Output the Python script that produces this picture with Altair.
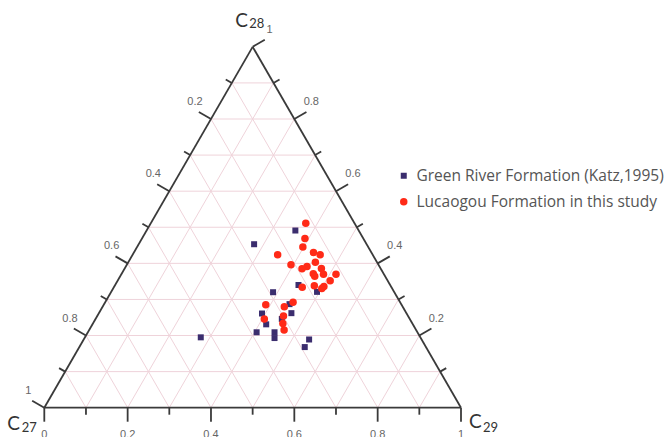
import altair as alt
import numpy as np
import pandas as pd

SERIES = ["Green River Formation (Katz,1995)", "Lucaogou Formation in this study"]
COLORS = ["#3b2d6e", "#ff2a17"]

# Green River Formation (Katz, 1995): fractions C27, C28, C29
green_c27 = [0.152, 0.270, 0.220, 0.185, 0.291, 0.268, 0.276, 0.347, 0.307, 0.352, 0.386, 0.343, 0.351, 0.527, 0.270, 0.291]
green_c28 = [0.491, 0.453, 0.340, 0.321, 0.320, 0.287, 0.262, 0.261, 0.246, 0.231, 0.209, 0.209, 0.193, 0.195, 0.189, 0.168]
green_c29 = [0.357, 0.277, 0.440, 0.494, 0.389, 0.445, 0.462, 0.392, 0.447, 0.417, 0.405, 0.448, 0.456, 0.278, 0.541, 0.541]

# Lucaogou Formation (this study)
luca_c27 = [0.117, 0.140, 0.157, 0.228, 0.140, 0.126, 0.148, 0.210, 0.175, 0.189, 0.142, 0.170, 0.169, 0.145,
            0.115, 0.139, 0.183, 0.161, 0.169, 0.215, 0.257, 0.326, 0.284, 0.299, 0.349, 0.311, 0.317]
luca_c28 = [0.511, 0.469, 0.445, 0.424, 0.430, 0.424, 0.403, 0.396, 0.391, 0.385, 0.386, 0.371, 0.364, 0.370,
            0.370, 0.352, 0.338, 0.336, 0.330, 0.334, 0.292, 0.285, 0.280, 0.254, 0.246, 0.233, 0.215]
luca_c29 = [0.372, 0.391, 0.398, 0.348, 0.431, 0.450, 0.449, 0.394, 0.435, 0.426, 0.472, 0.460, 0.467, 0.485,
            0.515, 0.510, 0.479, 0.503, 0.501, 0.452, 0.451, 0.389, 0.436, 0.447, 0.405, 0.456, 0.468]

grid_values = [0.1, 0.2, 0.3, 0.4, 0.5, 0.6, 0.7, 0.8, 0.9]
bottom_ticks = [0.0, 0.1, 0.2, 0.3, 0.4, 0.5, 0.6, 0.7, 0.8, 0.9, 1.0]
side_ticks = [0.1, 0.2, 0.3, 0.4, 0.5, 0.6, 0.7, 0.8, 0.9, 1.0]
bottom_labels = [(0.0, "0"), (0.2, "0.2"), (0.4, "0.4"), (0.6, "0.6"), (0.8, "0.8"), (1.0, "1")]
side_labels = [(0.2, "0.2"), (0.4, "0.4"), (0.6, "0.6"), (0.8, "0.8"), (1.0, "1")]

H = np.sqrt(3) / 2
SIDE_PX = 416.7
MAJOR = 14 / SIDE_PX
MINOR = 7 / SIDE_PX


def tern(c28, c29):
    return c29 + c28 / 2, c28 * H


# points
pts = pd.concat([
    pd.DataFrame({"series": SERIES[0], "c27": green_c27, "c28": green_c28, "c29": green_c29}),
    pd.DataFrame({"series": SERIES[1], "c27": luca_c27, "c28": luca_c28, "c29": luca_c29}),
])

# grid segments (ternary endpoints)
rows = []
for k in grid_values:
    rows.append((k, 0.0, k, 1 - k))        # C28 = k
    rows.append((0.0, k, 1 - k, k))        # C29 = k
    rows.append((0.0, 1 - k, 1 - k, 0.0))  # C27 = k
grid = []
for a28, a29, b28, b29 in rows:
    x1, y1 = tern(a28, a29)
    x2, y2 = tern(b28, b29)
    grid.append({"x": x1, "y": y1, "x2": x2, "y2": y2})
grid = pd.DataFrame(grid)

# triangle edges
V = {"L": tern(0, 0), "R": tern(0, 1), "T": tern(1, 0)}
edges = pd.DataFrame([
    {"x": V[a][0], "y": V[a][1], "x2": V[b][0], "y2": V[b][1]} for a, b in [("L", "R"), ("R", "T"), ("T", "L")]
])

# ticks
ticks = []
for t in bottom_ticks:
    x, y = tern(0, t)
    ln = MAJOR if round(t * 10) % 2 == 0 else MINOR
    ticks.append({"x": x, "y": y, "x2": x, "y2": y - ln})
for t in side_ticks:
    ln = MAJOR if round(t * 10) % 2 == 0 else MINOR
    # left edge: C27 = t, C29 = 0
    x, y = tern(1 - t, 0)
    ticks.append({"x": x, "y": y, "x2": x - H * ln, "y2": y + 0.5 * ln})
    # right edge: C28 = t, C27 = 0
    x, y = tern(t, 1 - t)
    ticks.append({"x": x, "y": y, "x2": x + H * ln, "y2": y + 0.5 * ln})
ticks = pd.DataFrame(ticks)

bl = pd.DataFrame([{"x": tern(0, v)[0], "y": 0.0, "t": s} for v, s in bottom_labels])
ll = pd.DataFrame([{"x": tern(1 - v, 0)[0], "y": tern(1 - v, 0)[1], "t": s} for v, s in side_labels])
rl = pd.DataFrame([{"x": tern(v, 1 - v)[0], "y": tern(v, 1 - v)[1], "t": s} for v, s in side_labels])

XS = alt.Scale(domain=[-44.3 / SIDE_PX, (671 - 44.3) / SIDE_PX], nice=False, zero=False)
YS = alt.Scale(domain=[(407.7 - 437) / SIDE_PX, 407.7 / SIDE_PX], nice=False, zero=False)


def seg_layer(df, color, width):
    return alt.Chart(df).mark_rule(color=color, strokeWidth=width).encode(
        x=alt.X("x:Q", scale=XS, axis=None),
        y=alt.Y("y:Q", scale=YS, axis=None),
        x2="x2:Q",
        y2="y2:Q",
    )


grid_layer = seg_layer(grid, "#efd3da", 1)
edge_layer = seg_layer(edges, "#3a3a3a", 1.8)
tick_layer = seg_layer(ticks, "#3a3a3a", 1.8)

points = alt.Chart(pts).transform_calculate(
    x="datum.c29 + datum.c28 / 2",
    y="datum.c28 * sqrt(3) / 2",
).mark_point(filled=True, opacity=1).encode(
    x=alt.X("x:Q", scale=XS, axis=None),
    y=alt.Y("y:Q", scale=YS, axis=None),
    color=alt.Color("series:N", scale=alt.Scale(domain=SERIES, range=COLORS),
                    legend=alt.Legend(orient="none", legendX=396, legendY=168, title=None,
                                      labelFontSize=15.5, labelFont="Open Sans", labelColor="#555555",
                                      labelLimit=0,
                                      symbolSize=45, rowPadding=9, labelOffset=5, padding=0,
                                      symbolStrokeWidth=0)),
    shape=alt.Shape("series:N", scale=alt.Scale(domain=SERIES, range=["square", "circle"])),
    size=alt.Size("series:N", scale=alt.Scale(domain=SERIES, range=[36, 56]), legend=None),
)


def label_layer(df, dx, dy):
    return alt.Chart(df).mark_text(font="Liberation Sans", fontSize=11, color="#666666",
                                   align="center", baseline="middle", dx=dx, dy=dy).encode(
        x=alt.X("x:Q", scale=XS, axis=None),
        y=alt.Y("y:Q", scale=YS, axis=None),
        text="t:N",
    )


labels = [label_layer(bl, 0, 27.5), label_layer(ll, -16, -17), label_layer(rl, 17, -17)]

vert = []
for key, texts in [("L", [("C", 19, "right", -24.3, 16.5), ("27", 13, "left", -22.5, 20)]),
                   ("R", [("C", 19, "right", 20.7, 14.5), ("29", 13, "left", 22, 20)]),
                   ("T", [("C", 19, "right", -4.7, -26), ("28", 13, "left", -3.5, -23)])]:
    for txt, fs, al, dx, dy in texts:
        d = pd.DataFrame([{"x": V[key][0], "y": V[key][1], "t": txt}])
        vert.append(alt.Chart(d).mark_text(font="Lato", fontSize=fs, color="#333333",
                                           align=al, baseline="middle", dx=dx, dy=dy).encode(
            x=alt.X("x:Q", scale=XS, axis=None),
            y=alt.Y("y:Q", scale=YS, axis=None),
            text="t:N",
        ))

chart = alt.layer(grid_layer, edge_layer, tick_layer, points, *labels, *vert).properties(
    width=671, height=437, padding=0, autosize=alt.AutoSizeParams(type="none"),
    background="white",
).configure_view(stroke=None)

chart.save("out.html", embed_options={"renderer": "svg", "actions": False})
